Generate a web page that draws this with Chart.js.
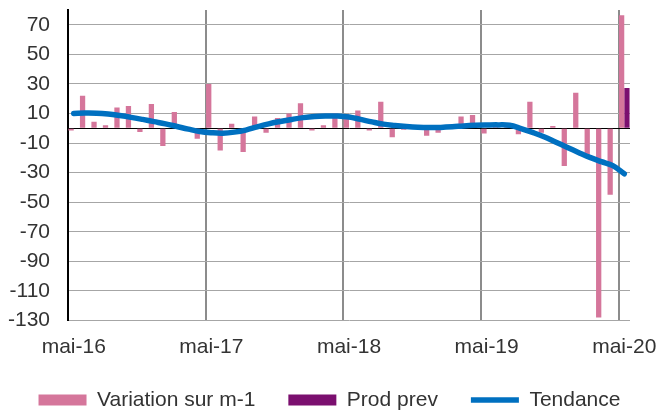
<!DOCTYPE html>
<html>
<head>
<meta charset="utf-8">
<script src="https://cdn.jsdelivr.net/npm/chart.js@4"></script>
<style>
  html, body { margin: 0; padding: 0; background: #fff; }
  #wrap { width: 659px; height: 412px; position: relative; }
</style>
</head>
<body>
<div id="wrap"><canvas id="chart"></canvas></div>
<script>
// Mois de mai-16 a mai-20
const monthNames = ['mai', 'juin', 'juil', 'août', 'sept', 'oct', 'nov', 'déc', 'janv', 'févr', 'mars', 'avr'];
const startYear = 16;
const months = [];
for (let i = 0; i < 49; i++) {
  const yr = startYear + Math.floor((i + 4) / 12);
  months.push(monthNames[i % 12] + '-' + yr);
}

const variation = [
  -1.5, 22, 4.5, 2, 14, 15, -2.5, 16.5, -12, 11, -1, -7,
  30, -15, 3, -16, 8, -3, 7, 10, 17, -1.5, 2, 10,
  9.5, 12, -1.5, 18, -6, -1, 1, -5, -3, 1, 8, 9,
  -3.5, 2, 1, -4, 18, -3, 1.5, -25.5, 24, -20, -128, -45,
  76.5
];

const prodPrev = [
  null, null, null, null, null, null, null, null, null, null, null, null,
  null, null, null, null, null, null, null, null, null, null, null, null,
  null, null, null, null, null, null, null, null, null, null, null, null,
  null, null, null, null, null, null, null, null, null, null, null, null,
  27.3
];

const tendance = [
  10, 10.3, 10.2, 9.6, 8.6, 7.4, 6, 4.5, 3, 1.2, -0.6, -2.2,
  -3, -3.3, -2.6, -1.2, 1, 3, 4.6, 6, 7.2, 8, 8.3, 8.3,
  7.6, 6, 4.3, 2.8, 1.9, 1.2, 0.7, 0.5, 0.6, 1, 1.6, 2,
  2.2, 2.3, 2.0, -0.2, -2.8, -5.7, -9.2, -12.8, -16.3, -19.7, -22.6, -25.3,
  -30.8
];

const yTickValues = [70, 50, 30, 10, -10, -30, -50, -70, -90, -110, -130];

const FONT = "'Liberation Sans', Arial, sans-serif";
const TEXT = '#333333';

Chart.defaults.font.family = FONT;
Chart.defaults.font.size = 21;
Chart.defaults.color = TEXT;

new Chart(document.getElementById('chart'), {
  type: 'bar',
  data: {
    labels: months,
    datasets: [
      {
        label: 'Variation sur m-1',
        data: variation,
        backgroundColor: '#D5769B',
        borderWidth: 0,
        pointStyle: 'rect',
        barPercentage: 1,
        categoryPercentage: 0.92,
        order: 1,
      },
      {
        label: 'Prod prev',
        data: prodPrev,
        backgroundColor: '#7B0F6F',
        borderWidth: 0,
        pointStyle: 'rect',
        barPercentage: 1,
        categoryPercentage: 0.92,
        order: 1,
      },
      {
        type: 'line',
        label: 'Tendance',
        data: tendance,
        borderColor: '#0070C0',
        backgroundColor: '#0070C0',
        borderWidth: 5.5,
        borderCapStyle: 'round',
        borderJoinStyle: 'round',
        pointStyle: 'line',
        pointRadius: 0,
        tension: 0.4,
        fill: false,
        order: 0,
      }
    ]
  },
  options: {
    responsive: true,
    maintainAspectRatio: false,
    animation: false,
    layout: { padding: { top: 10, right: 0, left: 0, bottom: 0 } },
    scales: {
      x: {
        offset: true,
        grid: {
          offset: true,
          drawTicks: false,
          lineWidth: 2,
          color: (ctx) => (ctx.index > 0 && ctx.index % 12 === 0) ? '#8C8C8C' : 'rgba(0,0,0,0)',
        },
        border: { display: false },
        ticks: {
          autoSkip: false,
          maxRotation: 0,
          padding: 14,
          callback: (v, i) => i % 12 === 0 ? months[i] : '',
        },
        afterFit: (s) => {
          // room for labels, and the empty strip right of the plot
          s.height = 36;
          s.paddingLeft = 0;
          s.paddingRight = 29;
        }
      },
      y: {
        min: -130,
        max: 80,
        afterBuildTicks: (s) => {
          s.ticks = yTickValues.concat([0]).sort((a, b) => a - b).map(v => ({ value: v }));
        },
        grid: {
          drawTicks: false,
          lineWidth: 1,
          color: (ctx) => (ctx.tick && ctx.tick.value === 0) ? '#000000' : '#A6A6A6',
        },
        border: { color: '#000000', width: 2 },
        ticks: {
          padding: 18,
          callback: (v) => v === 0 ? '' : v,
        },
        afterFit: (s) => {
          s.width = 68;
          s.paddingTop = 0;
          s.paddingBottom = 0;
        }
      }
    },
    plugins: {
      legend: {
        position: 'bottom',
        maxHeight: 55.5,
        labels: {
          usePointStyle: true,
          pointStyleWidth: 48,
          boxHeight: 11,
          padding: 33,
          color: TEXT,
          font: { size: 21 },
          sort: (a, b) => a.datasetIndex - b.datasetIndex,
        }
      },
      tooltip: { enabled: false }
    }
  }
});
</script>
</body>
</html>
